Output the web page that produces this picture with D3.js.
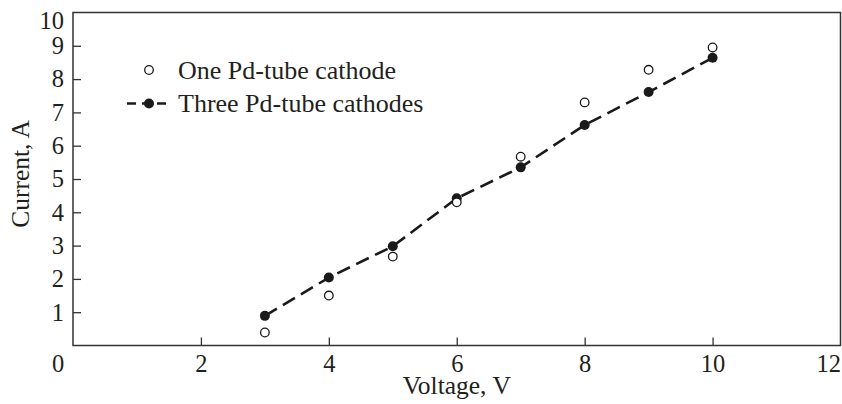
<!DOCTYPE html>
<html>
<head>
<meta charset="utf-8">
<style>
body { margin: 0; background: #fff; }
text { font-family: "Liberation Serif", "Times New Roman", serif; fill: #231f20; }
.axis text { font-size: 24.5px; }
.axis line { stroke: #333; stroke-width: 1.3; }
.frame { fill: none; stroke: #333; stroke-width: 1.5; }
</style>
</head>
<body>
<svg id="chart" width="842" height="404"></svg>
<script src="https://d3js.org/d3.v7.min.js"></script>
<script>
// data
let voltage = [3, 4, 5, 6, 7, 8, 9, 10];
let oneTube = [0.39, 1.5, 2.67, 4.3, 5.67, 7.3, 8.28, 8.95];
let threeTubes = [0.89, 2.04, 2.98, 4.42, 5.35, 6.62, 7.61, 8.64];
let seriesNames = ["One Pd-tube cathode", "Three Pd-tube cathodes"];
let xTicks = [2, 4, 6, 8, 10, 12];
let yTicks = [1, 2, 3, 4, 5, 6, 7, 8, 9, 10];

let margin = {top: 12.5, right: 1.5, bottom: 58.5, left: 73},
    width = 842 - margin.left - margin.right,
    height = 404 - margin.top - margin.bottom;

let svg = d3.select("#chart");
let chart = svg.append("g")
    .attr("transform", "translate(" + margin.left + "," + margin.top + ")");

let xScale = d3.scaleLinear().domain([0, 12]).range([0, width]);
let yScale = d3.scaleLinear().domain([0, 10]).range([height, 0]);

// x axis, ticks pointing inward
let xAxis = chart.append("g")
    .attr("class", "axis axis-x")
    .attr("transform", "translate(0," + height + ")")
    .call(d3.axisBottom(xScale).tickValues(xTicks).tickSize(-8));
xAxis.select(".domain").remove();
xAxis.selectAll(".tick")
    .filter(d => d === 12)
    .call(t => t.select("line").remove())
    .select("text").attr("text-anchor", "end");
xAxis.selectAll("text").attr("dy", 0).attr("y", 26.5);
// origin label
xAxis.append("text")
    .attr("x", -15)
    .attr("y", 26.5)
    .attr("text-anchor", "middle")
    .attr("fill", "#231f20")
    .text("0");

// y axis, ticks pointing inward
let yAxis = chart.append("g")
    .attr("class", "axis axis-y")
    .call(d3.axisLeft(yScale).tickValues(yTicks).tickSize(-8).tickPadding(9));
yAxis.select(".domain").remove();
yAxis.selectAll(".tick")
    .filter(d => d === 10)
    .call(t => t.select("line").remove())
    .select("text").attr("dy", "0.66em");

// frame
chart.append("rect")
    .attr("class", "frame")
    .attr("width", width)
    .attr("height", height);

let pts = voltage.map((v, i) => ({x: v, one: oneTube[i], three: threeTubes[i]}));

// dashed line for three tubes
let line = d3.line()
    .x(d => xScale(d.x))
    .y(d => yScale(d.three));
chart.append("path")
    .datum(pts)
    .attr("d", line)
    .attr("fill", "none")
    .attr("stroke", "#1a1a1a")
    .attr("stroke-width", 2.6)
    .attr("stroke-dasharray", "14,7");

chart.selectAll(".dot3")
    .data(pts)
    .join("circle")
    .attr("class", "dot3")
    .attr("cx", d => xScale(d.x))
    .attr("cy", d => yScale(d.three))
    .attr("r", 5)
    .attr("fill", "#1a1a1a");

chart.selectAll(".dot1")
    .data(pts)
    .join("circle")
    .attr("class", "dot1")
    .attr("cx", d => xScale(d.x))
    .attr("cy", d => yScale(d.one))
    .attr("r", 4.3)
    .attr("fill", "#fff")
    .attr("stroke", "#1a1a1a")
    .attr("stroke-width", 1.3);

// legend
let legend = svg.append("g").attr("transform", "translate(149,70)");
legend.append("circle")
    .attr("r", 4.3)
    .attr("fill", "#fff")
    .attr("stroke", "#1a1a1a")
    .attr("stroke-width", 1.3);
legend.append("line")
    .attr("x1", -22).attr("x2", 23)
    .attr("y1", 33.5).attr("y2", 33.5)
    .attr("stroke", "#1a1a1a")
    .attr("stroke-width", 2.6)
    .attr("stroke-dasharray", "9,6");
legend.append("circle")
    .attr("cy", 33.5)
    .attr("r", 5)
    .attr("fill", "#1a1a1a");
legend.selectAll(".ltext")
    .data(seriesNames)
    .join("text")
    .attr("class", "ltext")
    .attr("x", 29)
    .attr("y", (d, i) => 8.5 + i * 33)
    .style("font-size", "26px")
    .text(d => d);

// axis titles
svg.append("text")
    .attr("x", margin.left + width / 2)
    .attr("y", 394)
    .attr("text-anchor", "middle")
    .style("font-size", "25.5px")
    .text("Voltage, V");
svg.append("text")
    .attr("transform", "translate(29," + (margin.top + height / 2 - 5) + ") rotate(-90)")
    .attr("text-anchor", "middle")
    .style("font-size", "25.5px")
    .text("Current, A");
</script>
</body>
</html>
